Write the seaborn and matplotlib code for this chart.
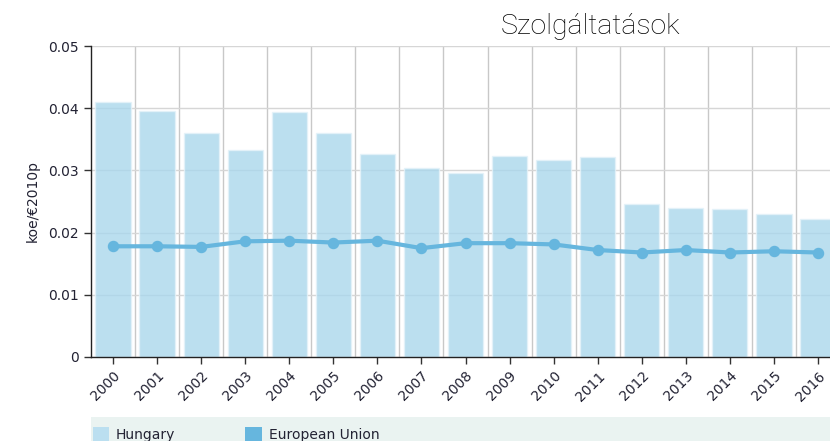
import matplotlib
matplotlib.use("Agg")
import matplotlib.pyplot as plt
import seaborn as sns
import pandas as pd
from matplotlib.patches import Rectangle, Patch
from matplotlib.ticker import FuncFormatter, MultipleLocator

# data
years = [str(y) for y in range(2000, 2017)]
hungary = [0.0410, 0.0395, 0.0360, 0.0333, 0.0394, 0.0360, 0.0326, 0.0304, 0.0296,
           0.0323, 0.0317, 0.0322, 0.0246, 0.0240, 0.0238, 0.0230, 0.0222]
eu = [0.0178, 0.0178, 0.0177, 0.0186, 0.0187, 0.0184, 0.0187, 0.0175, 0.0183,
      0.0183, 0.0181, 0.0172, 0.0168, 0.0172, 0.0168, 0.0170, 0.0168]

bar_col = "#aad7ec"
legend_bar_col = "#bbdff0"
line_col = "#66b6de"
text_col = "#222233"

df = pd.DataFrame({"year": years, "Hungary": hungary, "European Union": eu})

sns.set_style("white")
plt.rcParams["font.family"] = ["DejaVu Sans"]

fig = plt.figure(figsize=(8.3, 4.41), dpi=100)
ax = fig.add_axes([91 / 830, 1 - 357 / 441, 749 / 830, 311 / 441])

sns.barplot(data=df, x="year", y="Hungary", color=bar_col, saturation=1,
            width=0.8, alpha=0.8, edgecolor="#e4f2f9", linewidth=1, ax=ax, zorder=2)
sns.pointplot(data=df, x="year", y="European Union", color=line_col,
              markers="o", markersize=6, linewidth=3, ax=ax, zorder=3)

ax.set_xlim(-0.5, len(years) - 0.5)
ax.set_ylim(0, 0.05)
ax.yaxis.set_major_locator(MultipleLocator(0.01))
ax.yaxis.set_major_formatter(FuncFormatter(lambda v, p: f"{v:g}"))

# grid: horizontal at ticks, vertical between categories
ax.set_xticks([i + 0.5 for i in range(len(years))], minor=True)
ax.grid(axis="y", which="major", color="#d6d6d6", linewidth=1, zorder=0)
ax.grid(axis="x", which="minor", color="#c8c8c8", linewidth=1, zorder=0)
ax.set_axisbelow(True)
ax.tick_params(axis="x", which="minor", length=0)

for s in ["top", "right"]:
    ax.spines[s].set_visible(False)
for s in ["left", "bottom"]:
    ax.spines[s].set_color("#222222")
    ax.spines[s].set_linewidth(1)

ax.tick_params(axis="both", which="major", direction="out", length=5,
               width=1, color="#333333", labelsize=10, labelcolor=text_col)
ax.tick_params(axis="x", which="major", bottom=True, labelrotation=45)
ax.tick_params(axis="y", left=True)
for lab in ax.get_xticklabels():
    lab.set_ha("right")
    lab.set_rotation_mode("anchor")

ax.set_xlabel("")
ax.set_ylabel("koe/€2010p", fontsize=10, color=text_col, labelpad=6)

fig.text(590 / 830, 1 - 27 / 441, "Szolgáltatások", fontsize=20.5,
         family="Roboto", fontweight="light", color="#000000",
         ha="center", va="center")

# legend strip at the bottom
fig.patches.append(Rectangle((91 / 830, 0), 1, 24 / 441, transform=fig.transFigure,
                             facecolor="#eaf3f1", edgecolor="none", zorder=0))
handles = [Patch(facecolor=legend_bar_col, edgecolor="none"),
           Patch(facecolor=line_col, edgecolor="none")]
fig.legend(handles, ["Hungary", "European Union"], loc="lower left",
           bbox_to_anchor=(80 / 830, -0.03), ncol=2, frameon=False,
           fontsize=10, handlelength=1.2, handleheight=1.2, handletextpad=0.5,
           columnspacing=5.0, labelcolor=text_col)

fig.savefig("out.png", dpi=100)
